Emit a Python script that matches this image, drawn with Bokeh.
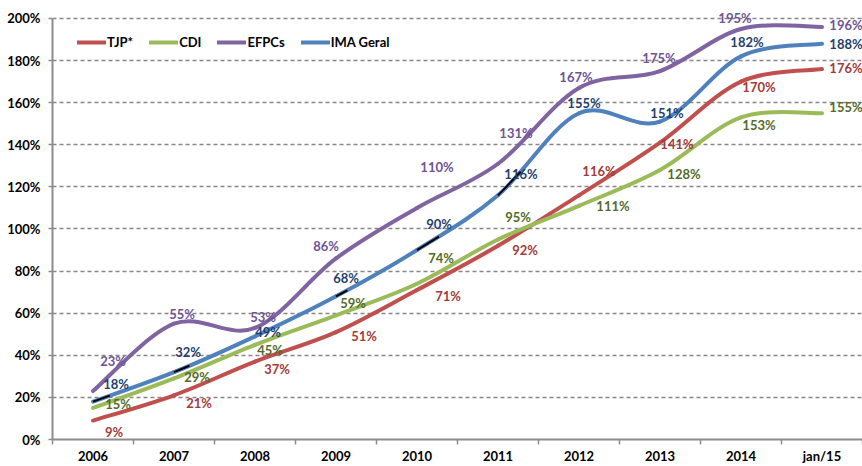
import numpy as np
from bokeh.plotting import figure
from bokeh.models import (FixedTicker, Range1d, Legend, LegendItem, ColumnDataSource)
from bokeh.embed import file_html
from bokeh.resources import INLINE
from bokeh.core.properties import value

# ---------------- data ----------------
categories = ["2006", "2007", "2008", "2009", "2010", "2011", "2012", "2013", "2014", "jan/15"]
tjp = [9, 21, 37, 51, 71, 92, 116, 141, 170, 176]
cdi = [15, 29, 45, 59, 74, 95, 111, 128, 153, 155]
efpc = [23, 55, 53, 86, 110, 131, 167, 175, 195, 196]
ima = [18, 32, 49, 68, 90, 116, 155, 151, 182, 188]
series_names = ["TJP*", "CDI", "EFPCs", "IMA Geral"]
y_ticks = [0, 20, 40, 60, 80, 100, 120, 140, 160, 180, 200]

# ---------------- styles / label placement (screen px) ----------------
line_colors = ["#C0504D", "#9BBB59", "#8064A2", "#4F81BD"]
label_colors = ["#A33B38", "#546B2A", "#6E5495", "#1F3F6E"]
off_tjp = [(21, 11), (25, 8), (22, 7), (28, 4), (31, 6), (27, 4), (20, -24), (17, 1), (18, 5), (24, -1)]
off_cdi = [(25, -4), (23, -1), (15, 5), (17, -12), (24, -26), (20, -23), (34, 0), (24, 4), (18, 8), (24, -6)]
off_efpc = [(20, -30), (8, -10), (8, -11), (-10, -12), (20, -41), (18, -31), (-3, -11), (-1, -13), (-6, -11), (24, -2)]
off_ima = [(23, -18), (14, -20), (13, -4), (10, -18), (22, -26), (23, -21), (5, -10), (7, -9), (6, -14), (24, 0)]
black_marks = [(0, 0.28), (1, 0.19), (3, 0.14), (4, 0.27), (5, 0.28)]  # small black strokes on IMA line
FONT = "Lato"
FS = "13px"

xs = [i + 0.5 for i in range(len(categories))]


def bezier_ctrl(x, y):
    """Excel-like smoothing: cubic Bezier control points for each segment."""
    x = np.asarray(x, float)
    y = np.asarray(y, float)
    n = len(x)
    xp = np.concatenate([[x[0]], x, [x[-1]]])
    yp = np.concatenate([[y[0]], y, [y[-1]]])
    d = dict(x0=[], y0=[], x1=[], y1=[], cx0=[], cy0=[], cx1=[], cy1=[])
    for i in range(n - 1):
        j = i + 1
        d["x0"].append(x[i]); d["y0"].append(y[i])
        d["x1"].append(x[i + 1]); d["y1"].append(y[i + 1])
        d["cx0"].append(x[i] + (xp[j + 1] - xp[j - 1]) / 6)
        d["cy0"].append(y[i] + (yp[j + 1] - yp[j - 1]) / 6)
        d["cx1"].append(x[i + 1] - (xp[j + 2] - xp[j]) / 6)
        d["cy1"].append(y[i + 1] - (yp[j + 2] - yp[j]) / 6)
    return d


def bez_point(d, i, t):
    px = ((1 - t) ** 3 * d["x0"][i] + 3 * (1 - t) ** 2 * t * d["cx0"][i]
          + 3 * (1 - t) * t ** 2 * d["cx1"][i] + t ** 3 * d["x1"][i])
    py = ((1 - t) ** 3 * d["y0"][i] + 3 * (1 - t) ** 2 * t * d["cy0"][i]
          + 3 * (1 - t) * t ** 2 * d["cy1"][i] + t ** 3 * d["y1"][i])
    return px, py


W, H = 862, 466
p = figure(width=W, height=H, x_range=Range1d(0, 10), y_range=Range1d(0, 207.6),
           output_backend="svg", toolbar_location=None,
           min_border_left=52, min_border_right=0, min_border_top=2, min_border_bottom=27)
p.outline_line_color = None
p.background_fill_color = "white"
p.border_fill_color = "white"

# grid
p.xgrid.grid_line_color = None
p.ygrid.ticker = FixedTicker(ticks=y_ticks[1:])
p.ygrid.grid_line_color = "#878787"
p.ygrid.grid_line_width = 1.5
p.ygrid.grid_line_dash = "4 3"

# y axis
p.yaxis.ticker = FixedTicker(ticks=y_ticks)
p.yaxis.major_label_overrides = {t: f"{t}%" for t in y_ticks}
p.yaxis.bounds = (0, 200)
p.yaxis.axis_line_color = "#8C8C8C"
p.yaxis.axis_line_width = 2
p.yaxis.major_tick_line_color = "#8C8C8C"
p.yaxis.major_tick_line_width = 1.5
p.yaxis.major_tick_out = 4
p.yaxis.major_tick_in = 0
p.yaxis.minor_tick_line_color = None
p.yaxis.minor_tick_out = 0
p.yaxis.minor_tick_in = 0
p.yaxis.major_label_standoff = 8

# x axis
p.xaxis.ticker = FixedTicker(ticks=xs, minor_ticks=list(range(0, 11)))
p.xaxis.major_label_overrides = {x: c for x, c in zip(xs, categories)}
p.xaxis.bounds = (0, 10)
p.xaxis.axis_line_color = "#8C8C8C"
p.xaxis.axis_line_width = 2
p.xaxis.major_tick_line_color = None
p.xaxis.major_tick_out = 0
p.xaxis.major_tick_in = 0
p.xaxis.minor_tick_line_color = "#8C8C8C"
p.xaxis.minor_tick_line_width = 1.5
p.xaxis.minor_tick_out = 5
p.xaxis.minor_tick_in = 0
p.xaxis.major_label_standoff = 3

for ax in (p.xaxis[0], p.yaxis[0]):
    ax.major_label_text_font = FONT
    ax.major_label_text_font_style = "bold"
    ax.major_label_text_font_size = FS
    ax.major_label_text_color = "black"

all_series = [tjp, cdi, efpc, ima]
all_offs = [off_tjp, off_cdi, off_efpc, off_ima]
renderers = []
ctrl = []
for vals, col in zip(all_series, line_colors):
    d = bezier_ctrl(xs, vals)
    ctrl.append(d)
    r = p.bezier(x0="x0", y0="y0", x1="x1", y1="y1", cx0="cx0", cy0="cy0", cx1="cx1", cy1="cy1",
                 source=ColumnDataSource(d), line_color=col, line_width=4, line_cap="round")
    renderers.append(r)

# small black strokes on IMA Geral line
d_ima = ctrl[3]
sx0, sy0, sx1, sy1 = [], [], [], []
for i, t in black_marks:
    sx0.append(xs[i]); sy0.append(ima[i])
    a, b = bez_point(d_ima, i, t)
    sx1.append(a); sy1.append(b)
p.segment(x0=sx0, y0=sy0, x1=sx1, y1=sy1, line_color="black", line_width=2)

# data labels
for vals, offs, col in zip(all_series, all_offs, label_colors):
    src = ColumnDataSource(dict(x=xs, y=vals, t=[f"{v}%" for v in vals],
                                dx=[o[0] for o in offs], dy=[o[1] for o in offs]))
    p.text(x="x", y="y", text="t", source=src, x_offset="dx", y_offset="dy",
           text_font=value(FONT), text_font_style="bold", text_font_size=value(FS),
           text_color=col, text_align="center", text_baseline="middle")

legend = Legend(items=[LegendItem(label=n, renderers=[r]) for n, r in zip(series_names, renderers)],
                orientation="horizontal", location=(25, 389), padding=0, margin=0,
                spacing=16, glyph_width=29, glyph_height=16, label_standoff=1,
                label_width=0, label_height=16,
                label_text_font=FONT, label_text_font_style="bold", label_text_font_size=FS,
                label_text_color="black", background_fill_alpha=0, border_line_color=None)
p.add_layout(legend)

open("out.html", "w").write(file_html(p, INLINE))
